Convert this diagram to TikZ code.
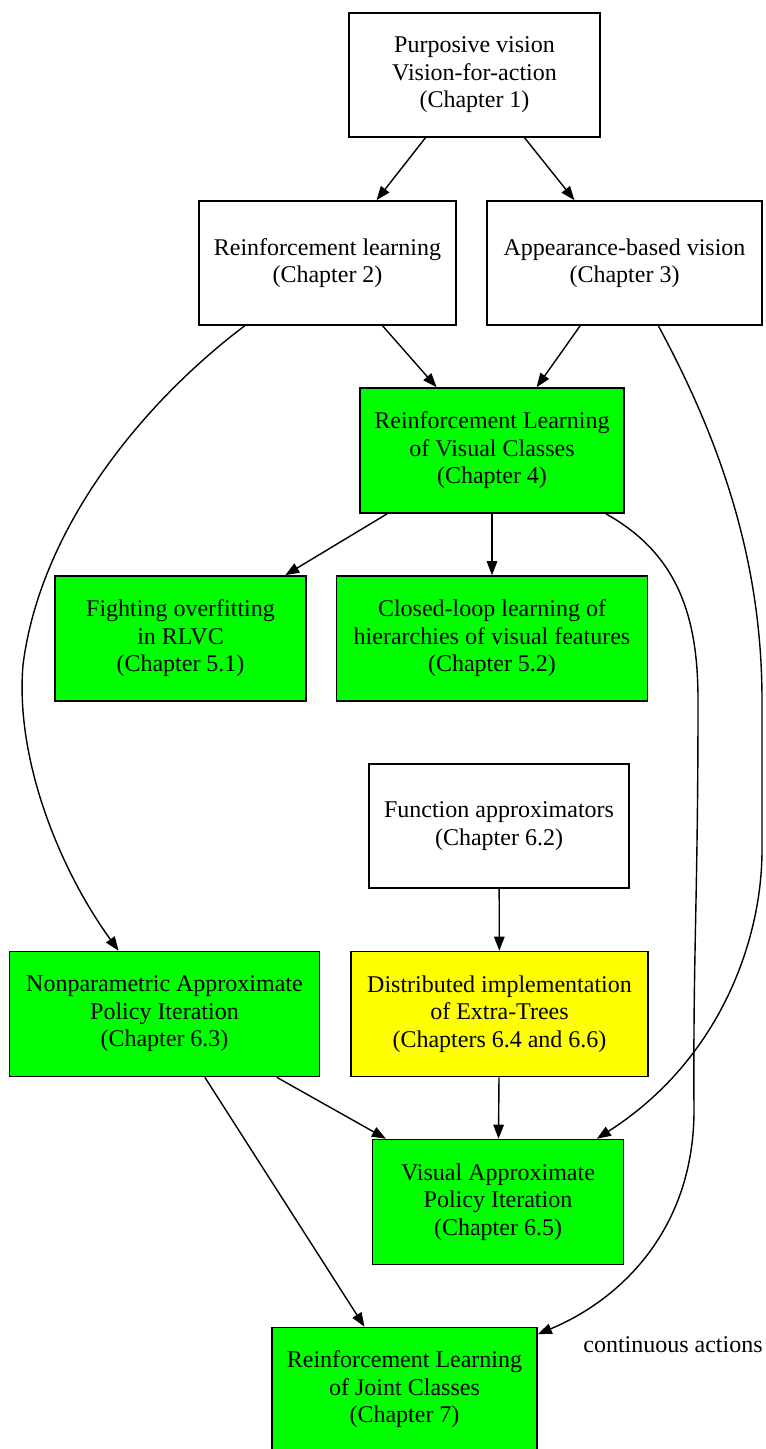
\documentclass[tikz,border=0pt]{standalone}
\usepackage{fontspec}
\setmainfont{Liberation Serif}
\usepackage{tikz}
\usetikzlibrary{arrows.meta}
\definecolor{chapgreen}{RGB}{0,255,0}
\definecolor{chapyellow}{RGB}{255,255,0}
\tikzset{
	chapbox/.style={draw=black, line width=1.6pt, align=center, inner sep=0pt, font=\fontsize{24}{27.5}\selectfont},
	newbox/.style={chapbox, fill=chapgreen},
	implbox/.style={chapbox, fill=chapyellow},
	dep/.style={line width=1.4pt, -{Triangle[length=14pt,width=10.5pt]}}
}

\begin{document}
\begin{tikzpicture}[x=1pt, y=-1pt]
	\useasboundingbox (0,0) rectangle (766,1449);
	\fill[white] (0,0) rectangle (766,1449);

	% background chapters
	\node[chapbox, minimum width=251pt, minimum height=124pt] (purposive) at (474.5,75) {Purposive vision\\Vision-for-action\\(Chapter 1)};
	\node[chapbox, minimum width=257pt, minimum height=124pt] (rl) at (327.5,263) {Reinforcement learning\\(Chapter 2)};
	\node[chapbox, minimum width=275pt, minimum height=124pt] (appearance) at (624.5,263) {Appearance-based vision\\(Chapter 3)};
	\node[chapbox, minimum width=260pt, minimum height=124pt] (funcapprox) at (499,826) {Function approximators\\(Chapter 6.2)};

	% contributions
	\node[newbox, minimum width=264pt, minimum height=125pt] (rlvc) at (492,450.5) {Reinforcement Learning\\of Visual Classes\\(Chapter 4)};
	\node[newbox, minimum width=251pt, minimum height=125pt] (overfit) at (180.5,638.5) {Fighting overfitting\\in RLVC\\(Chapter 5.1)};
	\node[newbox, minimum width=311pt, minimum height=125pt] (closedloop) at (492,638.5) {Closed-loop learning of\\hierarchies of visual features\\(Chapter 5.2)};
	\node[newbox, minimum width=310pt, minimum height=125pt] (napi) at (164.5,1014) {Nonparametric Approximate\\Policy Iteration\\(Chapter 6.3)};
	\node[implbox, minimum width=297pt, minimum height=125pt] (extratrees) at (499.5,1014) {Distributed implementation\\of Extra-Trees\\(Chapters 6.4 and 6.6)};
	\node[newbox, minimum width=251pt, minimum height=125pt] (vapi) at (498,1202) {Visual Approximate\\Policy Iteration\\(Chapter 6.5)};
	\node[newbox, minimum width=265pt, minimum height=124pt] (rljc) at (404.5,1389.5) {Reinforcement Learning\\of Joint Classes\\(Chapter 7)};
	\node[font=\fontsize{24}{27.5}\selectfont] (contact) at (673,1345) {continuous actions};

	\draw[dep] (purposive) -- (rl);
	\draw[dep] (purposive) -- (appearance);
	\draw[dep] (rl) -- (rlvc);
	\draw[dep] (appearance) -- (rlvc);
	\draw[dep] (rlvc) -- (overfit);
	\draw[dep] (rlvc) -- (closedloop);
	\draw[dep] (funcapprox) -- (extratrees);
	\draw[dep] (napi) -- (vapi);
	\draw[dep] (extratrees) -- (vapi);
	\draw[dep] (napi) -- (rljc);

	% long edges go round the other boxes
	\draw[dep] (rl) .. controls (140,405) and (40,530) .. (23,665) .. controls (15,760) and (60,870) .. (napi);
	\draw[dep] (appearance) .. controls (720,440) and (762,560) .. (762,700) -- (762,850) .. controls (762,940) and (720,1060) .. (vapi);
	\draw[dep] (rlvc) .. controls (680,555) and (698,620) .. (698,700) .. controls (698,900) and (693,950) .. (694,1110) .. controls (694,1230) and (620,1300) .. (rljc);
\end{tikzpicture}
\end{document}
